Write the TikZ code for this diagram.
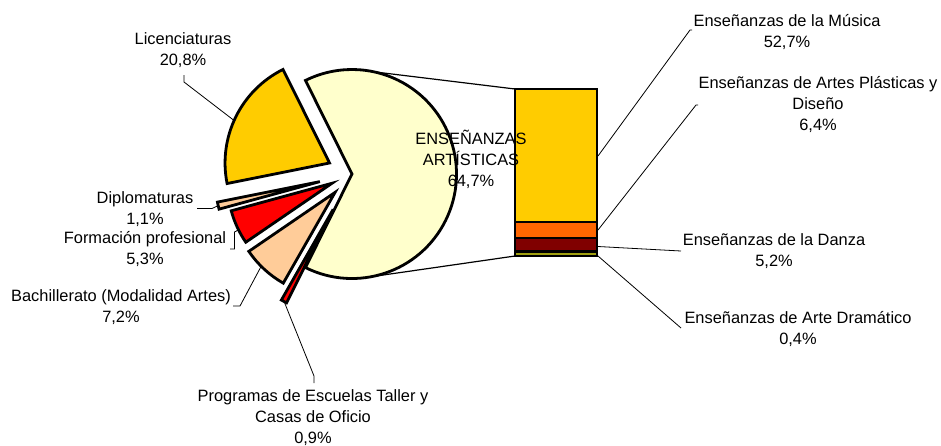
\documentclass[tikz,border=0pt]{standalone}
\usepackage{fontspec}
\setmainfont{Liberation Sans}
\usetikzlibrary{calc}
\definecolor{cBig}{HTML}{FFFFCC}
\definecolor{cGold}{HTML}{FFCC00}
\definecolor{cPeach}{HTML}{FFCC99}
\definecolor{cRed}{HTML}{FF0000}
\definecolor{cOrange}{HTML}{FF6600}
\definecolor{cMaroon}{HTML}{800000}
\definecolor{cOlive}{HTML}{A0A010}
\begin{document}
\begin{tikzpicture}[x=1pt,y=-1pt,
  slice/.style={draw=black,line width=2.8pt,line join=miter},
  barseg/.style={draw=black,line width=2.4pt},
  lead/.style={draw=black,line width=0.8pt},
  zoomline/.style={draw=black,line width=1.2pt},
  lbl/.style={align=center,inner sep=0pt,anchor=base,font=\fontsize{16.4pt}{21pt}\selectfont},
]
\useasboundingbox (0,0) rectangle (941,445);
\def\R{104.5}
\coordinate (C) at (352,174);
% apexes of the exploded slices
\coordinate (aLic)  at ($(C)+(-153.89:25)$);
\coordinate (aDip)  at ($(C)+(-193.31:33)$);
\coordinate (aFP)   at ($(C)+(-204.83:22)$);
\coordinate (aBach) at ($(C)+(-227.33:25)$);
\coordinate (aProg) at ($(C)+(-241.91:40)$);
% pie
\draw[slice,fill=cBig] (C) -- ++(116.45:\R) arc[start angle=116.45,end angle=-116.45,radius=\R] -- cycle;
\draw[slice,fill=cGold] (aLic) -- ++(-116.45:\R) arc[start angle=-116.45,end angle=-191.33,radius=\R] -- cycle;
\draw[slice,fill=cPeach] (aDip) -- ++(-191.33:\R) arc[start angle=-191.33,end angle=-195.29,radius=\R] -- cycle;
\draw[slice,fill=cRed] (aFP) -- ++(-195.29:\R) arc[start angle=-195.29,end angle=-214.37,radius=\R] -- cycle;
\draw[slice,fill=cPeach] (aBach) -- ++(-214.37:\R) arc[start angle=-214.37,end angle=-240.29,radius=\R] -- cycle;
\draw[slice,fill=cRed] (aProg) -- ++(-240.29:\R) arc[start angle=-240.29,end angle=-243.53,radius=\R] -- cycle;
% leader end points on the slices
\coordinate (eLic)  at ($(aLic)+(-156:\R)$);
\coordinate (eDip)  at ($(aDip)+(-193.3:\R)$);
\coordinate (eFP)   at ($(aFP)+(-206.5:\R)$);
\coordinate (eBach) at ($(aBach)+(-225:\R)$);
\coordinate (eProg) at ($(aProg)+(-242:\R)$);
\coordinate (pTop) at ($(C)+(-78:\R)$);
\coordinate (pBot) at ($(C)+(84:\R)$);
% bar
\coordinate (bTL) at (515,89);
\coordinate (bBL) at (515,256);
\draw[barseg,fill=cGold]   (515,89)    rectangle (597,222);
\draw[barseg,fill=cOrange] (515,222)   rectangle (597,238);
\draw[barseg,fill=cMaroon] (515,238)   rectangle (597,251.5);
\draw[barseg,fill=cOlive]  (515,251.5) rectangle (597,256);
\coordinate (eMus)  at (598,156);
\coordinate (eArt)  at (598,230);
\coordinate (eDan)  at (598,246.5);
\coordinate (eDra)  at (598,256);
% zoom lines
\draw[zoomline] (pTop) -- (bTL);
\draw[zoomline] (pBot) -- (bBL);
% labels (anchored at the baseline of their last line)
\node[lbl] (tLic)  at (183,65)  {Licenciaturas\\20,8\%};
\node[lbl] (tDip)  at (145,224) {Diplomaturas\\1,1\%};
\node[lbl] (tFP)   at (145,264) {Formación profesional\\5,3\%};
\node[lbl] (tBach) at (121,322) {Bachillerato (Modalidad Artes)\\7,2\%};
\node[lbl] (tProg) at (313,443) {Programas de Escuelas Taller y\\Casas de Oficio\\0,9\%};
\node[lbl] (tEA)   at (471,186) {ENSEÑANZAS\\ARTÍSTICAS\\64,7\%};
\node[lbl] (tMus)  at (787,47)  {Enseñanzas de la Música\\52,7\%};
\node[lbl] (tArt)  at (818,130) {Enseñanzas de Artes Plásticas y\\Diseño\\6,4\%};
\node[lbl] (tDan)  at (774,266) {Enseñanzas de la Danza\\5,2\%};
\node[lbl] (tDra)  at (798,344) {Enseñanzas de Arte Dramático\\0,4\%};
% leader lines
\draw[lead] (184,75) -- (184,82) -- (eLic);
\draw[lead] (197,208.5) -- (212,208.5) -- (eDip);
\draw[lead] (230,249) -- (234.5,249) -- (234.5,232) -- (eFP);
\draw[lead] (233,306) -- (240,306) -- (eBach);
\draw[lead] (314,383) -- (314,376) -- (eProg);
\draw[lead] (eMus) -- (690,30) -- (692,30);
\draw[lead] (eArt) -- (696,105) -- (698,105);
\draw[lead] (eDan) -- (681,251);
\draw[lead] (eDra) -- (681,328);
\end{tikzpicture}
\end{document}
